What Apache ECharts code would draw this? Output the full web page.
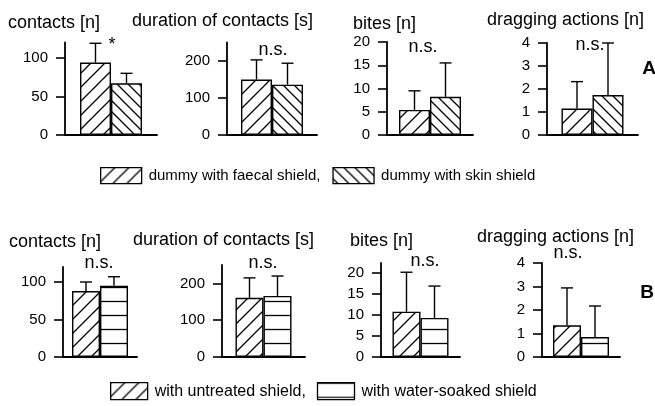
<!DOCTYPE html>
<html>
<head>
<meta charset="utf-8">
<script src="https://cdn.jsdelivr.net/npm/echarts@6/dist/echarts.min.js"></script>
<style>
  html, body { margin: 0; padding: 0; background: #fff; }
  #chart { width: 655px; height: 406px; }
</style>
</head>
<body>
<div id="chart"></div>
<script>
// Measured behaviours (one small panel each)
const measures = ['contacts [n]', 'duration of contacts [s]', 'bites [n]', 'dragging actions [n]'];

// Experiment A: faecal shield vs. skin shield (mean and SD)
const faecalMean = [94, 150, 5.4, 1.15];
const faecalSD   = [25, 53, 4.1, 1.17];
const skinMean   = [67, 136, 8.2, 1.74];
const skinSD     = [13, 58, 7.3, 2.26];
const signifA    = ['*', 'n.s.', 'n.s.', 'n.s.'];

// Experiment B: untreated shield vs. water-soaked shield (mean and SD)
const untreatedMean = [88, 161, 10.8, 1.35];
const untreatedSD   = [12, 54, 9.4, 1.59];
const soakedMean    = [95, 166, 9.3, 0.85];
const soakedSD      = [12, 54, 7.6, 1.32];
const signifB       = ['n.s.', 'n.s.', 'n.s.', 'n.s.'];

// Value axes
const axisMaxA = [120, 250, 20, 4];
const axisMaxB = [120, 250, 22.4, 4];
const tickValues = [[0, 50, 100], [0, 100, 200], [0, 5, 10, 15, 20], [0, 1, 2, 3, 4]];

const seriesNamesA = ['dummy with faecal shield,', 'dummy with skin shield'];
const seriesNamesB = ['with untreated shield,', 'with water-soaked shield'];

const FONT = '"Liberation Sans", Arial, Helvetica, sans-serif';

// ---- hatch fills -------------------------------------------------------
function hatch(kind, p, lw, phase) {
  const c = document.createElement('canvas');
  c.width = p; c.height = p;
  const g = c.getContext('2d');
  g.fillStyle = '#fff';
  g.fillRect(0, 0, p, p);
  g.strokeStyle = '#000';
  g.lineWidth = lw;
  g.beginPath();
  if (kind === '/') {
    for (const k of [0, p, 2 * p]) { g.moveTo(-1, k + 1); g.lineTo(p + 1, k - p - 1); }
  } else if (kind === '\\') {
    for (const k of [-p, 0, p]) { g.moveTo(-1, k - 1); g.lineTo(p + 1, k + p + 1); }
  } else {
    g.moveTo(0, phase); g.lineTo(p, phase);
  }
  g.stroke();
  return { image: c, repeat: 'repeat' };
}
const fillFwd  = hatch('/', 14, 1.3);
const fillBack = hatch('\\', 11, 1.3);
const fillFwdB = hatch('/', 14, 1.3);
const fillHorz = hatch('-', 14, 1.3, 7.5);
const fillHorzLegend = hatch('-', 14, 1.3, 0.5);

// ---- panel geometry ----------------------------------------------------
const gridA = [
  { left: 65,  width: 92, top: 42.5, height: 92.5 },
  { left: 227, width: 90, top: 42.5, height: 92.5 },
  { left: 387, width: 86, top: 42,   height: 93 },
  { left: 547, width: 91, top: 43,   height: 92 }
];
const gridB = [
  { left: 63,  width: 74, top: 267, height: 90 },
  { left: 222, width: 83, top: 265, height: 92 },
  { left: 381, width: 79, top: 263, height: 94 },
  { left: 542, width: 78, top: 263, height: 94 }
];

const grids = [], xAxes = [], yAxes = [], series = [];
const black = '#000';

function addPanel(g, max, ticks, names, means, sds, fills, barW) {
  const idx = grids.length;
  grids.push(Object.assign({ containLabel: false }, g));
  xAxes.push({
    type: 'category', gridIndex: idx, data: [''],
    axisLine: { show: true, lineStyle: { color: black, width: 1.8 } },
    axisTick: { show: false }, axisLabel: { show: false }
  });
  yAxes.push({
    type: 'value', gridIndex: idx, min: 0, max: max,
    axisLine: { show: true, lineStyle: { color: black, width: 1.8 } },
    axisTick: { show: true, length: 9, inside: false, customValues: ticks,
                lineStyle: { color: black, width: 1.6 } },
    axisLabel: { show: true, margin: 17, customValues: ticks,
                 color: black, fontSize: 15, fontFamily: FONT },
    splitLine: { show: false }
  });
  for (let s = 0; s < 2; s++) {
    series.push({
      type: 'bar', name: names[s], xAxisIndex: idx, yAxisIndex: idx,
      barWidth: barW, barGap: '0%', silent: true, z: 2,
      itemStyle: { color: fills[s], borderColor: black, borderWidth: 1.4 },
      data: [means[s]]
    });
  }
  for (let s = 0; s < 2; s++) {
    const offset = (s === 0 ? -1 : 1) * barW / 2;
    series.push({
      type: 'custom', xAxisIndex: idx, yAxisIndex: idx, silent: true, z: 3,
      data: [[0, means[s], means[s] + sds[s]]],
      renderItem: function (params, api) {
        const base = api.coord([api.value(0), api.value(1)]);
        const tip = api.coord([api.value(0), api.value(2)]);
        const x = base[0] + offset;
        const st = { stroke: black, lineWidth: 1.4 };
        return {
          type: 'group',
          children: [
            { type: 'line', shape: { x1: x, y1: base[1], x2: x, y2: tip[1] }, style: st },
            { type: 'line', shape: { x1: x - 6, y1: tip[1], x2: x + 6, y2: tip[1] }, style: st }
          ]
        };
      }
    });
  }
}

for (let i = 0; i < 4; i++) {
  addPanel(gridA[i], axisMaxA[i], tickValues[i], seriesNamesA,
           [faecalMean[i], skinMean[i]], [faecalSD[i], skinSD[i]], [fillFwd, fillBack], 31);
}
for (let i = 0; i < 4; i++) {
  addPanel(gridB[i], axisMaxB[i], tickValues[i], seriesNamesB,
           [untreatedMean[i], soakedMean[i]], [untreatedSD[i], soakedSD[i]], [fillFwdB, fillHorz], 28);
}

// ---- text labels -------------------------------------------------------
const titlePosA = [[8, 23], [132, 21], [353, 24], [487, 20]];
const titlePosB = [[9, 242], [133, 240], [350, 241], [477, 237]];
const sigPosA = [[112, 45], [273, 50], [423, 47], [590, 45]];
const sigPosB = [[99, 263], [263, 263], [425, 261], [568, 253]];

function txt(x, y, text, align, font) {
  return {
    type: 'text', x: x, y: y, silent: true,
    style: { text: text, fill: black, font: font, align: align, verticalAlign: 'middle',
             textAlign: align, textVerticalAlign: 'middle' }
  };
}
const graphics = [];
for (let i = 0; i < 4; i++) {
  graphics.push(txt(titlePosA[i][0], titlePosA[i][1], measures[i], 'left', '18px ' + FONT));
  graphics.push(txt(titlePosB[i][0], titlePosB[i][1], measures[i], 'left', '18px ' + FONT));
  graphics.push(txt(sigPosA[i][0], sigPosA[i][1], signifA[i], 'center', '18px ' + FONT));
  graphics.push(txt(sigPosB[i][0], sigPosB[i][1], signifB[i], 'center', '18px ' + FONT));
}
graphics.push(txt(649, 69, 'A', 'center', 'bold 19px ' + FONT));
graphics.push(txt(647, 293, 'B', 'center', 'bold 19px ' + FONT));

const legendBase = {
  selectedMode: false, orient: 'horizontal', icon: 'rect', padding: 0,
  itemStyle: { borderColor: black, borderWidth: 1.3 },
  textStyle: { color: black, fontSize: 15, fontFamily: FONT, padding: [0, 0, 0, 2] }
};

const chart = echarts.init(document.getElementById('chart'), null, { renderer: 'canvas' });
chart.setOption({
  animation: false,
  backgroundColor: '#fff',
  grid: grids,
  xAxis: xAxes,
  yAxis: yAxes,
  series: series,
  legend: [
    Object.assign({}, legendBase, {
      left: 100, top: 167, itemWidth: 41, itemHeight: 16, itemGap: 12,
      data: seriesNamesA
    }),
    Object.assign({}, legendBase, {
      left: 110, top: 382, itemWidth: 37, itemHeight: 17, itemGap: 11,
      textStyle: Object.assign({}, legendBase.textStyle, { fontSize: 16 }),
      data: [seriesNamesB[0], { name: seriesNamesB[1], itemStyle: { color: fillHorzLegend } }]
    })
  ],
  graphic: graphics
});
</script>
</body>
</html>
